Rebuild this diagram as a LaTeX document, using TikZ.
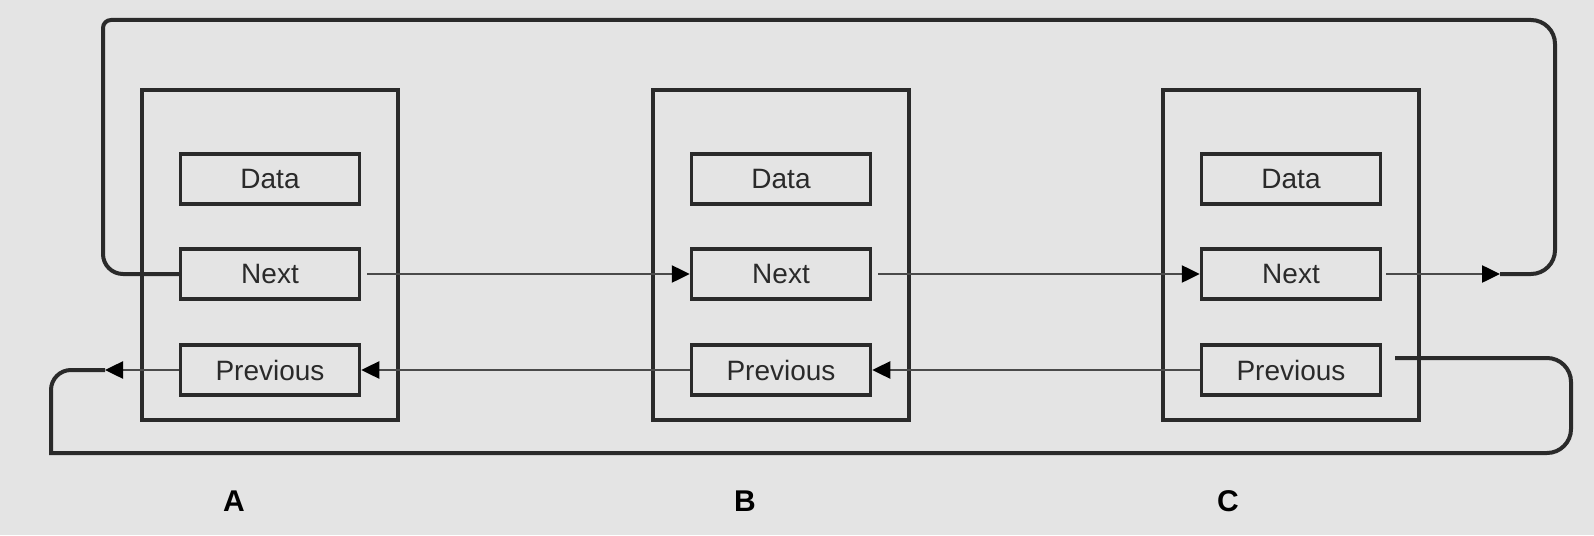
\documentclass[tikz,border=0pt]{standalone}
\usepackage{fontspec}
\setmainfont{Liberation Sans}
\usetikzlibrary{arrows.meta,positioning}
\definecolor{bg}{HTML}{E4E4E4}
\definecolor{ink}{HTML}{2A2A2A}
\definecolor{wire}{HTML}{4A4A4A}

\begin{document}
\begin{tikzpicture}[x=1pt,y=-1pt,>={Triangle[length=18pt,width=17pt,color=black]},
  field/.style={draw=ink,line width=3.5pt,minimum width=179pt,minimum height=50pt,inner sep=0pt,
    font=\fontsize{28}{34}\selectfont,text=ink},
  cell/.style={draw=ink,line width=3.5pt,minimum width=256pt,minimum height=330pt},
  link/.style={draw=wire,line width=2.5pt},
  wrap/.style={draw=ink,line width=4pt},
  tag/.style={font=\fontsize{30}{36}\selectfont\bfseries,text=black}]
  \fill[bg] (0,0) rectangle (1594,535);
  \useasboundingbox (0,0) rectangle (1594,535);
  \foreach \n/\x in {A/270,B/781,C/1291}{
    \node[cell] (box\n) at (\x,255) {};
    \node[field] (data\n) at (\x,179) {Data};
    \node[field] (next\n) at (\x,274) {Next};
    \node[field] (prev\n) at (\x,370) {Previous};
  }
  \node[tag] (tagA) at (234,501) {A};
  \node[tag] (tagB) at (745,501) {B};
  \node[tag] (tagC) at (1228,501) {C};
  % next links
  \draw[link,->] ([xshift=6pt]nextA.east) -- (nextB.west);
  \draw[link,->] ([xshift=6pt]nextB.east) -- (nextC.west);
  % previous links
  \draw[link,->] (prevB.west) -- (prevA.east);
  \draw[link,->] (prevC.west) -- (prevB.east);
  % wrap-around ends
  \coordinate (nextEnd) at (1500,274);
  \coordinate (prevEnd) at (105,370);
  \coordinate (prevOut) at (1395,358);
  \draw[link,->] ([xshift=4pt]nextC.east) -- (nextEnd);
  \draw[link,->] (prevA.west) -- (prevEnd);
  \draw[wrap,rounded corners=24pt] (nextEnd) -- (1555,274) -- (1555,20)
    [rounded corners=8pt] -- (103,20) [rounded corners=20pt] -- (103,274) -- (nextA.west);
  \draw[wrap,rounded corners=24pt] (prevOut) -- (1571,358) -- (1571,453)
    [sharp corners] -- (51,453) [rounded corners=20pt] -- (51,370) -- (prevEnd);
\end{tikzpicture}
\end{document}
